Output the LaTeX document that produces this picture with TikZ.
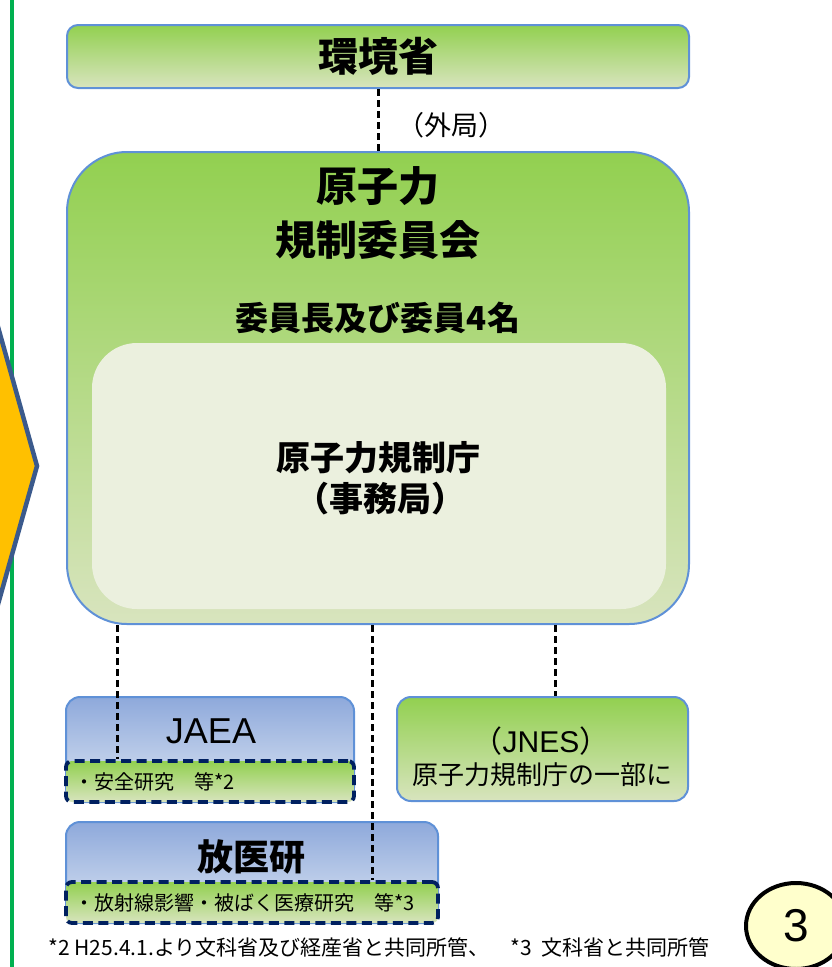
\documentclass[tikz,border=0pt]{standalone}
\usepackage{fontspec}
\setmainfont{Noto Sans CJK JP}
\newfontfamily\numfont{Liberation Sans}
\usetikzlibrary{shapes,arrows}
\definecolor{boxgreen}{RGB}{146,208,80}
\definecolor{palegreen}{RGB}{216,228,190}
\definecolor{boxblue}{RGB}{142,169,219}
\definecolor{paleblue}{RGB}{221,230,243}
\definecolor{edgeblue}{RGB}{95,145,215}
\definecolor{innerfill}{RGB}{235,240,222}
\definecolor{navy}{RGB}{0,32,96}
\definecolor{chevron}{RGB}{255,192,0}
\definecolor{chevronedge}{RGB}{59,90,140}
\definecolor{barcolor}{RGB}{0,176,80}
\definecolor{notefill}{RGB}{255,255,204}
\tikzstyle{greenbox} = [rectangle, draw=edgeblue, line width=2pt, top color=boxgreen, bottom color=palegreen, rounded corners=11pt, inner sep=0pt]
\tikzstyle{bluebox} = [rectangle, draw=edgeblue, line width=2pt, top color=boxblue, bottom color=paleblue, rounded corners=14pt, inner sep=0pt]
\tikzstyle{subbox} = [rectangle, draw=navy, line width=3.8pt, dash pattern=on 10pt off 5.5pt, top color=boxgreen, bottom color=palegreen, rounded corners=6pt, inner sep=0pt]
\tikzstyle{link} = [draw, line width=3pt, dash pattern=on 7pt off 4pt]
\newcommand{\fsz}[1]{\fontsize{#1}{#1}\selectfont}

\begin{document}
\begin{tikzpicture}[x=1pt, y=-1pt]
	\useasboundingbox (0,0) rectangle (832,967);
	\clip (0,0) rectangle (832,967);
	% left bar and arrow
	\draw[barcolor, line width=3.5pt] (12,0) -- (12,967);
	\filldraw[fill=chevron, draw=chevronedge, line width=4.5pt] (-60,120) -- (37,466) -- (-60,810) -- cycle;
	% boxes
	\node [greenbox, minimum width=622pt, minimum height=63pt, font=\fsz{40}\bfseries] (kankyo) at (378,56.5) {環境省};
	\node [greenbox, rounded corners=60pt, minimum width=622pt, minimum height=472pt] (iinkai) at (378,388) {};
	\node [rectangle, fill=innerfill, rounded corners=45pt, minimum width=574pt, minimum height=266pt] (chou) at (379,476) {};
	\node [font=\fsz{41}\bfseries] (iinkai1) at (378,186) {原子力};
	\node [font=\fsz{41}\bfseries] (iinkai2) at (378,240) {規制委員会};
	\node [font=\fsz{33}\bfseries] (members) at (378,318) {委員長及び委員4名};
	\node [font=\fsz{34}\bfseries] (chou1) at (378,458) {原子力規制庁};
	\node [font=\fsz{34}\bfseries] (chou2) at (380,499) {（事務局）};
	\node [font=\fsz{27}] (gaikyoku) at (451,125) {（外局）};
	\node [bluebox, minimum width=288pt, minimum height=105pt] (jaea) at (210,749.5) {};
	\node [font=\numfont\fsz{36}] (jaeaname) at (211,731) {JAEA};
	\node [subbox, minimum width=288pt, minimum height=41pt] (jaeasub) at (210,781.5) {};
	\node [font=\fsz{20}, anchor=west] (jaeatext) at (71,782) {・安全研究　等*2};
	\node [bluebox, minimum width=372pt, minimum height=101pt] (hoiken) at (252,872.5) {};
	\node [font=\fsz{36}\bfseries] (hoikenname) at (251,857) {放医研};
	\node [subbox, minimum width=372pt, minimum height=41pt] (hoikensub) at (252,902.5) {};
	\node [font=\fsz{20}, anchor=west] (hoikentext) at (71,903) {・放射線影響・被ばく医療研究　等*3};
	\node [greenbox, rounded corners=14pt, minimum width=291pt, minimum height=104pt] (jnes) at (542.5,749) {};
	\node [font=\fsz{30}] (jnesname) at (541,741) {（{\numfont JNES}）};
	\node [font=\fsz{26}] (jnestext) at (542,775) {原子力規制庁の一部に};
	% footnote and page number
	\node [font=\fsz{21}, anchor=west] (note) at (45,947) {*2 H25.4.1.より文科省及び経産省と共同所管、　*3\ \ 文科省と共同所管};
	\node [ellipse, draw=black, line width=4pt, fill=notefill, minimum width=100pt, minimum height=86pt, font=\numfont\fsz{46}] (page) at (796,926) {3};
	% links
	\path [link] (kankyo.south) -- (iinkai.north);
	\path [link] ([xshift=-261pt]iinkai.south) -- ([xshift=-93pt]jaeasub.north);
	\path [link] ([xshift=-6pt]iinkai.south) -- ([xshift=120pt]hoikensub.north);
	\path [link] ([xshift=177pt]iinkai.south) -- ([xshift=12.5pt]jnes.north);
\end{tikzpicture}
\end{document}
